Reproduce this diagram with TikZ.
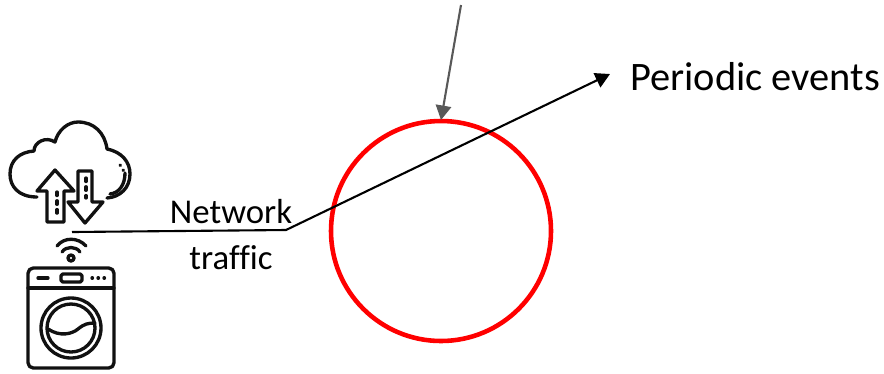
\documentclass[tikz,border=0pt]{standalone}
\usepackage{fontspec}
\setmainfont[Ligatures=NoCommon]{Carlito}
\usetikzlibrary{arrows.meta, positioning, calc}
\definecolor{ringred}{HTML}{FF0000}
\definecolor{dkgray}{HTML}{595959}
\definecolor{iconblack}{HTML}{111111}

\begin{document}
\begin{tikzpicture}[x=0.02cm, y=-0.02cm,
  >={Triangle[length=2.9mm, width=3.1mm]},
  icon/.style={iconblack, line width=1.9pt, line join=round, line cap=round}]

\useasboundingbox (0,0) rectangle (884,373);

% Ring
\draw[ringred, line width=2.6pt] (441,231) circle (110);

% Cloud
\draw[icon] (37,197) .. controls (18,197) and (10,186) .. (10,174)
  .. controls (10,160) and (20,152) .. (34,151)
  .. controls (34,142) and (46,136) .. (55,142)
  .. controls (58,130) and (68,122) .. (78,122)
  .. controls (94,122) and (105,133) .. (107,149)
  .. controls (122,152) and (130,162) .. (130,174)
  .. controls (130,188) and (120,197) .. (107,198);
\draw[icon] (125,173) .. controls (125,185) and (119,193) .. (110,194);
\draw[icon] (120,165) -- (120.5,165.5);
\draw[icon] (123,170) -- (123.5,170.5);

% Up and down arrows in the cloud
\draw[icon] (55,170) -- (74,191) -- (64,191) -- (64,222) -- (47,222) -- (47,191) -- (37,191) -- cycle;
\draw[icon] (78,171) -- (92,171) -- (92,202) -- (103,202) -- (85,223) -- (68,202) -- (78,202) -- cycle;
\draw[icon, dash pattern=on 2pt off 3pt] (57,192) -- (57,214);
\draw[icon, dash pattern=on 2pt off 3pt] (86,178) -- (86,198);

% Wifi
\draw[icon] (71,258) circle (3);
\draw[icon] (62,252) .. controls (66,246) and (76,246) .. (80,252);
\draw[icon] (57,246) .. controls (64,237) and (78,237) .. (86,246);

% Washing machine
\draw[icon, rounded corners=3pt] (28,268) rectangle (114,368);
\draw[icon] (28,288) -- (114,288);
\draw[icon, rounded corners=1pt] (61,274) rectangle (82,282);
\draw[icon] (38,278) -- (48,278);
\foreach \x in {92,98,104} \draw[icon] (\x,278) -- (\x+0.5,278);
\draw[icon] (71,328) circle (30);
\draw[icon] (71,328) circle (24);
\draw[icon] (48,329) .. controls (60,337) and (72,334) .. (78,329)
  .. controls (84,324) and (88,323) .. (95,323);

% Labels
\node[font=\fontsize{19.8}{23}\selectfont, text=black] (network) at (231,212) {Network};
\node[font=\fontsize{19.8}{23}\selectfont, text=black] (traffic) at (231,258) {traffic};
\node[font=\fontsize{23}{27}\selectfont, text=black, anchor=west] (periodic) at (624,77) {Periodic events};

% Traffic line and incoming arrow
\coordinate (washer) at (72,232);
\coordinate (bend) at (286,230);
\coordinate (head) at (610,74);
\coordinate (source) at (461,5);
\coordinate (ringtop) at (441,120);
\draw[black, line width=1.2pt, ->] (washer) -- (bend) -- (head);
\draw[dkgray, line width=1.2pt, ->] (source) -- (ringtop);

\end{tikzpicture}
\end{document}
